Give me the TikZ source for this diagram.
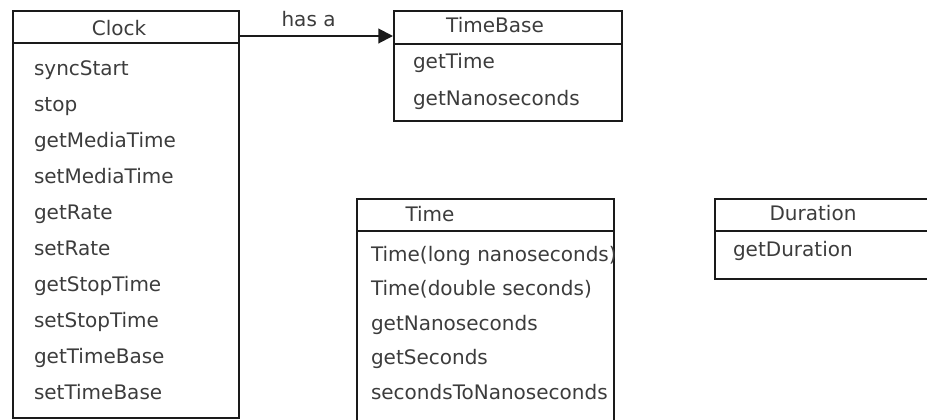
\documentclass[tikz,border=0pt]{standalone}
\usepackage{fontspec}
\setmainfont{DejaVu Sans}
\usetikzlibrary{arrows.meta}
\definecolor{inkgray}{HTML}{3C3C3C}
\definecolor{edge}{HTML}{1A1A1A}
\begin{document}
\begin{tikzpicture}[x=0.75pt, y=-0.75pt, line width=1.5pt, font=\fontsize{15}{18}\selectfont,
	box/.style n args={2}{draw=edge, anchor=north west, inner sep=0pt, minimum width=#1*0.75pt, minimum height=#2*0.75pt},
	title/.style={anchor=base, inner sep=0pt, text=inkgray},
	method/.style={anchor=base west, inner sep=0pt, text=inkgray},
	hasarrow/.style={draw=edge, -{Triangle[length=11pt, width=11pt]}}]
			\clip (0,0) rectangle (927,419);
			% class boxes: head and body
			\node[box={226}{32}] (clockhead) at (12,10) {};
			\node[box={226}{375}] (clockbody) at (12,42) {};
			\node[box={228}{33}] (tbhead) at (393,10) {};
			\node[box={228}{77}] (tbbody) at (393,43) {};
			\node[box={257}{32}] (timehead) at (356,198) {};
			\node[box={257}{200}] (timebody) at (356,230) {};
			\node[box={240}{32}] (durhead) at (714,198) {};
			\node[box={240}{48}] (durbody) at (714,230) {};
			% names
			\node[title] (clocktitle) at (119,35) {Clock};
			\node[title] (tbtitle) at (495,32) {TimeBase};
			\node[title] (timetitle) at (430,221) {Time};
			\node[title] (durtitle) at (813,220) {Duration};
			% methods
			\foreach \m [count=\i from 0] in {syncStart, stop, getMediaTime, setMediaTime, getRate, setRate, getStopTime, setStopTime, getTimeBase, setTimeBase}
				\node[method] (clockm\i) at (33,{75+36*\i}) {\m};
			\foreach \m [count=\i from 0] in {getTime, getNanoseconds}
				\node[method] (tbm\i) at (412,{68+37*\i}) {\m};
			\foreach \m [count=\i from 0] in {Time(long nanoseconds), Time(double seconds), getNanoseconds, getSeconds, secondsToNanoseconds}
				\node[method] (timem\i) at (370,{261+34.5*\i}) {\m};
			\node[method] (durm0) at (732,256) {getDuration};
			% association
			\coordinate (hasa) at ([yshift=-19.5pt]clockhead.north east);
			\draw[hasarrow] (hasa) -- node[pos=0.448, above=6pt, inner sep=0pt, text=inkgray] (hasalabel) {has a} (hasa -| tbhead.west);
		\end{tikzpicture}
\end{document}
